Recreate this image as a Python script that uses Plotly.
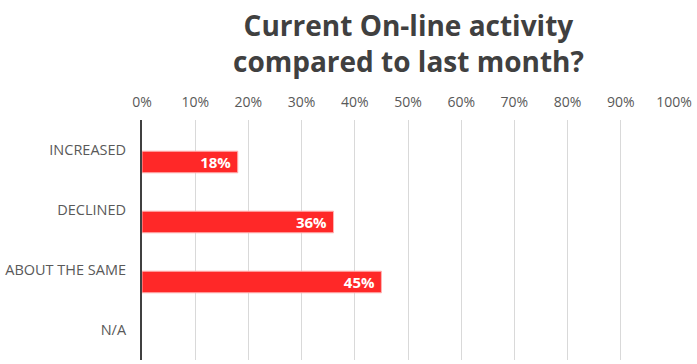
import plotly.graph_objects as go

categories = ["INCREASED", "DECLINED", "ABOUT THE SAME", "N/A"]
values = [0.18, 0.36, 0.45, None]
labels = ["<b>18%</b>&nbsp;", "<b>36%</b>&nbsp;", "<b>45%</b>&nbsp;", ""]
tick_vals = [0, 0.1, 0.2, 0.3, 0.4, 0.5, 0.6, 0.7, 0.8, 0.9, 1.0]
tick_text = ["0%", "10%", "20%", "30%", "40%", "50%", "60%", "70%", "80%", "90%", "100%"]
title_text = "<b>Current On-line activity<br>compared to last month?</b>"

fig = go.Figure(go.Bar(
    y=categories, x=values, orientation="h",
    text=labels, textposition="inside", insidetextanchor="end",
    constraintext="none",
    textfont=dict(color="white", size=15, family="Open Sans"),
    marker=dict(color="#FF2828", line=dict(color="#FFB3B3", width=1)),
    width=0.36, offset=0.02,
    cliponaxis=False,
))

fig.update_layout(
    width=697, height=364,
    margin=dict(l=142, r=23, t=120, b=4, autoexpand=False),
    paper_bgcolor="white", plot_bgcolor="white",
    showlegend=False,
    xaxis=dict(
        range=[0, 1], side="top", tickvals=tick_vals, ticktext=tick_text,
        showgrid=True, gridcolor="#D9D9D9", gridwidth=1,
        zeroline=False, showline=False, ticks="", automargin=False,
        tickfont=dict(family="Open Sans", size=14, color="#595959"),
        ticklabelstandoff=9,
    ),
    yaxis=dict(
        autorange="reversed", showgrid=False, zeroline=False,
        showline=True, linecolor="#404040", linewidth=2, ticks="",
        automargin=False,
        tickfont=dict(family="Open Sans", size=14.5, color="#595959"),
        ticklabelstandoff=11,
    ),
    annotations=[dict(
        text=title_text, xref="paper", yref="paper",
        x=0.5, y=1, yshift=116, xanchor="center", yanchor="top",
        showarrow=False, align="center",
        font=dict(family="Open Sans", size=28, color="#404040"),
    )],
)

fig.write_html("out.html", config={"displayModeBar": False},
               post_script="document.body.style.margin='0px';")
